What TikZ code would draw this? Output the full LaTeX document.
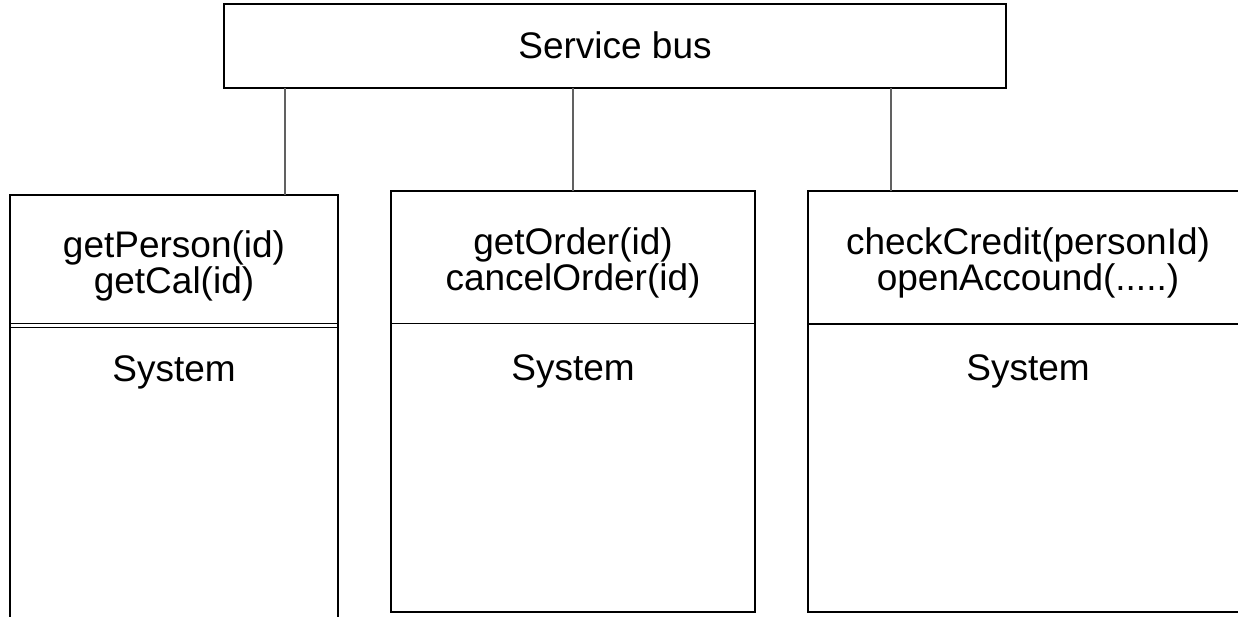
\documentclass[tikz,border=0pt]{standalone}
\usepackage{fontspec}
\setmainfont{Liberation Sans}
\begin{document}
\begin{tikzpicture}[x=1pt,y=-1pt,
  frame/.style={draw=black,line width=1.8pt,fill=none,inner sep=0pt,outer sep=0pt,anchor=north west},
  bar/.style={draw=black,line width=1.8pt},
  link/.style={draw=black!62,line width=1.8pt},
  txt/.style={anchor=base,inner sep=0pt,font=\fontsize{37}{36}\selectfont}]
\useasboundingbox (0,0) rectangle (1238,616);
\clip (0,0) rectangle (1238,616);

% service bus
\node[frame,minimum width=782pt,minimum height=84pt] (bus) at (224,4) {};
\node[txt] (bustxt) at (615,58) {Service bus};

% the three systems
\node[frame,minimum width=328pt,minimum height=440pt] (sysA) at (10,195) {};
\node[frame,minimum width=364pt,minimum height=421pt] (sysB) at (391,191) {};
\node[frame,minimum width=440pt,minimum height=421pt] (sysC) at (808,191) {};

% interface / body separators
\draw[bar,line width=1.3pt] (sysA.west |- 0,323.5) -- (sysA.east |- 0,323.5);
\draw[bar,line width=1.3pt] (sysA.west |- 0,327.5) -- (sysA.east |- 0,327.5);
\draw[bar] (sysB.west |- 0,323.5) -- (sysB.east |- 0,323.5);
\draw[bar] (sysC.west |- 0,324) -- (sysC.east |- 0,324);

% connectors from the bus
\draw[link] (bus.south -| 285,0) -- (sysA.north -| 285,0);
\draw[link] (bus.south -| 573,0) -- (sysB.north -| 573,0);
\draw[link] (bus.south -| 891,0) -- (sysC.north -| 891,0);

% operations
\node[txt] (a1) at (174,257) {getPerson(id)};
\node[txt] (a2) at (174,293) {getCal(id)};
\node[txt] (a3) at (174,381) {System};

\node[txt] (b1) at (573,254) {getOrder(id)};
\node[txt] (b2) at (573,290) {cancelOrder(id)};
\node[txt] (b3) at (573,380) {System};

\node[txt] (c1) at (1028,254) {checkCredit(personId)};
\node[txt] (c2) at (1028,290) {openAccound(.....)};
\node[txt] (c3) at (1028,380) {System};
\end{tikzpicture}
\end{document}
